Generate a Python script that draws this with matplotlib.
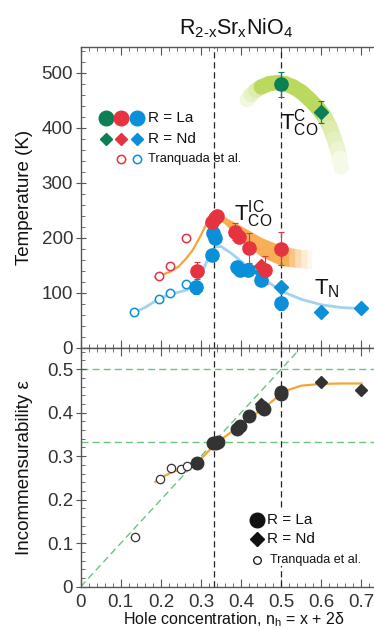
import numpy as np
import matplotlib
matplotlib.use("Agg")
import matplotlib.pyplot as plt
from matplotlib.ticker import MultipleLocator
from matplotlib.collections import LineCollection
from matplotlib.patches import Rectangle
from matplotlib.colors import to_rgb

plt.rcParams['font.family'] = ['Liberation Sans', 'DejaVu Sans']
plt.rcParams['mathtext.fontset'] = 'custom'
plt.rcParams['mathtext.rm'] = 'Liberation Sans'
plt.rcParams['mathtext.it'] = 'Liberation Sans:italic'
plt.rcParams['mathtext.sf'] = 'Liberation Sans'

# ---- top panel: transition temperatures (K) vs hole concentration ----
# green: commensurate charge order
gla_x, gla_y, gla_err = [0.5], [479], [23]
gnd_x, gnd_y, gnd_err = [0.6], [429], [20]
# red: incommensurate charge order
rla_x = [0.29, 0.328, 0.335, 0.34, 0.385, 0.395, 0.42, 0.46, 0.5]
rla_y = [140, 229, 236, 240, 211, 202, 181, 141, 180]
rla_err = [15, 0, 10, 0, 16, 0, 27, 25, 30]
rnd_x, rnd_y = [0.45], [148]
rtr_x = [0.196, 0.223, 0.263]
rtr_y = [130, 149, 200]
# blue: Neel temperature
bla_x = [0.288, 0.327, 0.331, 0.336, 0.389, 0.397, 0.418, 0.45, 0.5]
bla_y = [110, 168, 209, 200, 147, 141, 141, 123, 81]
bla_err = [12, 0, 0, 0, 0, 0, 10, 0, 12]
bnd_x = [0.45, 0.5, 0.6, 0.7]
bnd_y = [138, 111, 65, 72]
btr_x = [0.134, 0.196, 0.223, 0.263]
btr_y = [65, 89, 99, 115]

# guide lines / bands
gband_x = [0.415, 0.425, 0.437, 0.45, 0.47, 0.49, 0.51, 0.53, 0.55, 0.57, 0.59, 0.61, 0.622, 0.632, 0.64, 0.646, 0.65]
gband_y = [451, 460, 468, 474, 480, 482, 480, 474, 465, 452, 437, 418, 400, 380, 362, 345, 328]
gband_w = [0.2, 0.35, 0.5, 1, 1, 1, 1, 1, 1, 1, 1, 0.6, 0.5, 0.4, 0.28, 0.15]

oband_x = [0.335, 0.36, 0.40, 0.45, 0.50, 0.52, 0.535, 0.55, 0.565, 0.575]
oband_top = [246, 237, 221, 200, 185, 182, 180, 178, 177, 176]
oband_bot = [238, 225, 196, 166, 150, 148, 147, 146, 145, 145]
oband_w = [1, 1, 1, 1, 1, 0.7, 0.45, 0.25, 0.1]

oline_x = [0.186, 0.2, 0.223, 0.245, 0.264, 0.278, 0.289, 0.298, 0.306, 0.314, 0.322, 0.33, 0.338]
oline_y = [128, 132, 138, 148, 163, 176, 190, 202, 214, 226, 236, 243, 245]

bline_x = [0.133, 0.16, 0.198, 0.225, 0.264, 0.285, 0.298, 0.314, 0.325, 0.335, 0.35, 0.375, 0.4, 0.45, 0.5, 0.55, 0.6, 0.65, 0.7]
bline_y = [64, 73, 90, 97, 105, 116, 129, 156, 172, 183, 184, 172, 157, 128, 103, 88, 78, 73, 71]

# ---- bottom panel: incommensurability ----
etr_x = [0.135, 0.198, 0.225, 0.249, 0.265]
etr_y = [0.115, 0.248, 0.272, 0.270, 0.277]
ela_x = [0.289, 0.331, 0.337, 0.343, 0.389, 0.397, 0.42, 0.451, 0.457, 0.5, 0.5]
ela_y = [0.284, 0.330, 0.330, 0.332, 0.362, 0.369, 0.393, 0.414, 0.408, 0.448, 0.443]
end_x = [0.45, 0.6, 0.7]
end_y = [0.42, 0.471, 0.452]
eline_x = [0.186, 0.2, 0.225, 0.25, 0.275, 0.3, 0.333, 0.36, 0.4, 0.43, 0.46, 0.48, 0.5, 0.52, 0.55, 0.6, 0.65, 0.7]
eline_y = [0.241, 0.25, 0.262, 0.270, 0.280, 0.294, 0.325, 0.345, 0.372, 0.393, 0.413, 0.428, 0.443, 0.453, 0.462, 0.466, 0.467, 0.467]

special_x = [1 / 3, 0.5]
xticks = [0, 0.1, 0.2, 0.3, 0.4, 0.5, 0.6, 0.7]
xtick_labels = ['0', '0.1', '0.2', '0.3', '0.4', '0.5', '0.6', '0.7']

GREEN = '#0c7f55'
RED = '#e5333f'
BLUE = '#0a8fd8'
ORANGE = '#f6a43a'
OBAND = '#f8ae55'
GBAND = '#bcd95f'
LBLUE = '#a3d1ee'
DASHG = '#6cc383'
SPINE = '#555555'
DARK = '#333333'
TXT = '#111111'


def fade(c, w):
    r, g, b = to_rgb(c)
    return (1 - w * (1 - r), 1 - w * (1 - g), 1 - w * (1 - b))


fig = plt.figure(figsize=(3.74, 6.29), dpi=100)
ax1 = fig.add_axes([0.2158, 0.4472, 0.7842, 0.4781])
ax2 = fig.add_axes([0.2158, 0.0673, 0.7842, 0.380])

for ax in (ax1, ax2):
    ax.set_xlim(0, 0.7314)
    ax.xaxis.set_major_locator(MultipleLocator(0.1))
    ax.xaxis.set_minor_locator(MultipleLocator(0.02))
    ax.spines['right'].set_visible(False)
    for s in ('left', 'top', 'bottom'):
        ax.spines[s].set_color(SPINE)
        ax.spines[s].set_linewidth(1.0)
    ax.tick_params(which='major', direction='in', length=6, width=0.8, color=SPINE,
                   labelsize=13.5, labelcolor=DARK, top=True, right=False)
    ax.tick_params(which='minor', direction='in', length=3, width=0.6, color=SPINE,
                   top=True, right=False)
    ax.tick_params(axis='y', which='major', direction='inout', length=7, pad=2)
    for xv in special_x:
        ax.axvline(xv, color='#222222', lw=0.9, ls=(0, (5, 3)), zorder=2)

# ---------- top panel ----------
ax1.set_ylim(0, 546.7)
ax1.yaxis.set_major_locator(MultipleLocator(100))
ax1.yaxis.set_minor_locator(MultipleLocator(20))
ax1.tick_params(axis='x', labelbottom=False)
ax1.set_ylabel('Temperature (K)', fontsize=13.5, color=TXT)
ax1.yaxis.set_label_coords(-0.163, 0.5)

# green band
pts = np.column_stack([gband_x, gband_y])
segs = [pts[i:i + 2] for i in range(len(pts) - 1)]
lc = LineCollection(segs, colors=[fade(GBAND, w) for w in gband_w], linewidths=11,
                    capstyle='round', joinstyle='round', zorder=1)
ax1.add_collection(lc)

# orange band
for i in range(len(oband_x) - 1):
    c = fade(OBAND, oband_w[i])
    ax1.fill_between(oband_x[i:i + 2], oband_bot[i:i + 2], oband_top[i:i + 2],
                     facecolor=c, edgecolor=c, lw=0.4, zorder=1)

ax1.plot(oline_x, oline_y, color=ORANGE, lw=1.6, zorder=1.5)
ax1.plot(bline_x, bline_y, color=LBLUE, lw=2.0, zorder=1.5)

ms = 9.5
ekw = dict(lw=0.8, capsize=2, capthick=0.8, zorder=4)
ax1.errorbar(gla_x, gla_y, yerr=gla_err, fmt='o', ms=ms, color=GREEN, mec=GREEN, **ekw)
ax1.errorbar(gnd_x, gnd_y, yerr=gnd_err, fmt='D', ms=7.5, color=GREEN, mec=GREEN, **ekw)
ax1.errorbar(bla_x, bla_y, yerr=bla_err, fmt='o', ms=ms, color=BLUE, mec=BLUE, **ekw)
ax1.plot(bnd_x, bnd_y, 'D', ms=7, color=BLUE, zorder=4)
ax1.errorbar(rla_x, rla_y, yerr=rla_err, fmt='o', ms=ms, color=RED, mec=RED, **ekw)
ax1.plot(rnd_x, rnd_y, 'D', ms=7, color=RED, zorder=4)
ax1.plot(rtr_x, rtr_y, 'o', ms=6, mfc='white', mec=RED, mew=1.1, zorder=4)
ax1.plot(btr_x, btr_y, 'o', ms=6, mfc='white', mec=BLUE, mew=1.1, zorder=4)

ax1.text(0.497, 408, r'T$_{\rm CO}^{\rm C}$', fontsize=16, va='center', ha='left', color=TXT)
ax1.text(0.383, 243, r'T$_{\rm CO}^{\rm IC}$', fontsize=16, va='center', ha='left', color=TXT)
ax1.text(0.583, 108, r'T$_{\rm N}$', fontsize=16, va='center', ha='left', color=TXT)

# legend (top)
lx = [0.086, 0.137, 0.191]
tr = ax1.transAxes
for xx, c in zip(lx, [GREEN, RED, BLUE]):
    ax1.plot([xx], [0.763], 'o', ms=10.5, color=c, transform=tr, clip_on=False)
    ax1.plot([xx], [0.693], 'D', ms=6.5, color=c, transform=tr, clip_on=False)
for xx, c in zip(lx[1:], [RED, BLUE]):
    ax1.plot([xx], [0.628], 'o', ms=6, mfc='white', mec=c, mew=1.1, transform=tr, clip_on=False)
ax1.text(0.23, 0.763, 'R = La', transform=tr, fontsize=11, va='center', color=TXT)
ax1.text(0.23, 0.693, 'R = Nd', transform=tr, fontsize=11, va='center', color=TXT)
ax1.text(0.23, 0.628, 'Tranquada et al.', transform=tr, fontsize=9.3, va='center', color=TXT)

# ---------- bottom panel ----------
ax2.set_ylim(0, 0.5494)
ax2.yaxis.set_major_locator(MultipleLocator(0.1))
ax2.yaxis.set_minor_locator(MultipleLocator(0.02))
ax2.set_xticks(xticks)
ax2.set_xticklabels(xtick_labels)
ax2.tick_params(axis='x', which='major', pad=5)
ax2.set_yticks([0, 0.1, 0.2, 0.3, 0.4, 0.5])
ax2.set_yticklabels(['0', '0.1', '0.2', '0.3', '0.4', '0.5'])
ax2.set_ylabel('Incommensurability ε', fontsize=13.5, color=TXT)
ax2.yaxis.set_label_coords(-0.163, 0.5)
ax2.set_xlabel(r'Hole concentration, n$_{\rm h}$ = x + 2δ', fontsize=11.5, color=TXT)
ax2.xaxis.set_label_coords(0.523, -0.100)
ax2.xaxis.label.set_va('top')

for hv in special_x:
    ax2.axhline(hv, color=DASHG, lw=1.0, ls=(0, (5, 3)), zorder=1)
ax2.plot([0, 0.55], [0, 0.55], color=DASHG, lw=1.0, ls=(0, (5, 3)), zorder=1)
ax2.plot(eline_x, eline_y, color=ORANGE, lw=1.6, zorder=2)

ax2.plot(ela_x, ela_y, 'o', ms=9, color=DARK, zorder=4)
ax2.plot(end_x, end_y, 'D', ms=6.5, color=DARK, zorder=4)
ax2.plot(etr_x, etr_y, 'o', ms=6, mfc='white', mec=DARK, mew=0.9, zorder=4)

tr2 = ax2.transAxes
ax2.add_patch(Rectangle((0.57, 0.085), 0.42, 0.24, transform=tr2, facecolor='white',
                        edgecolor='none', zorder=3))
ax2.plot([0.600], [0.278], 'o', ms=10.5, color=TXT, transform=tr2, zorder=5)
ax2.plot([0.600], [0.198], 'D', ms=7, color=TXT, transform=tr2, zorder=5)
ax2.plot([0.600], [0.111], 'o', ms=5.5, mfc='white', mec=TXT, mew=0.9, transform=tr2, zorder=5)
ax2.text(0.636, 0.278, 'R = La', transform=tr2, fontsize=11, va='center', color=TXT, zorder=5)
ax2.text(0.636, 0.198, 'R = Nd', transform=tr2, fontsize=11, va='center', color=TXT, zorder=5)
ax2.text(0.645, 0.111, 'Tranquada et al.', transform=tr2, fontsize=9, va='center', color=TXT, zorder=5)

fig.text(0.631, 0.955, r'R$_{\rm 2\text{-}x}$Sr$_{\rm x}$NiO$_{\rm 4}$', fontsize=15.5,
         ha='center', va='center', color=TXT)

fig.savefig('out.png', dpi=100)
